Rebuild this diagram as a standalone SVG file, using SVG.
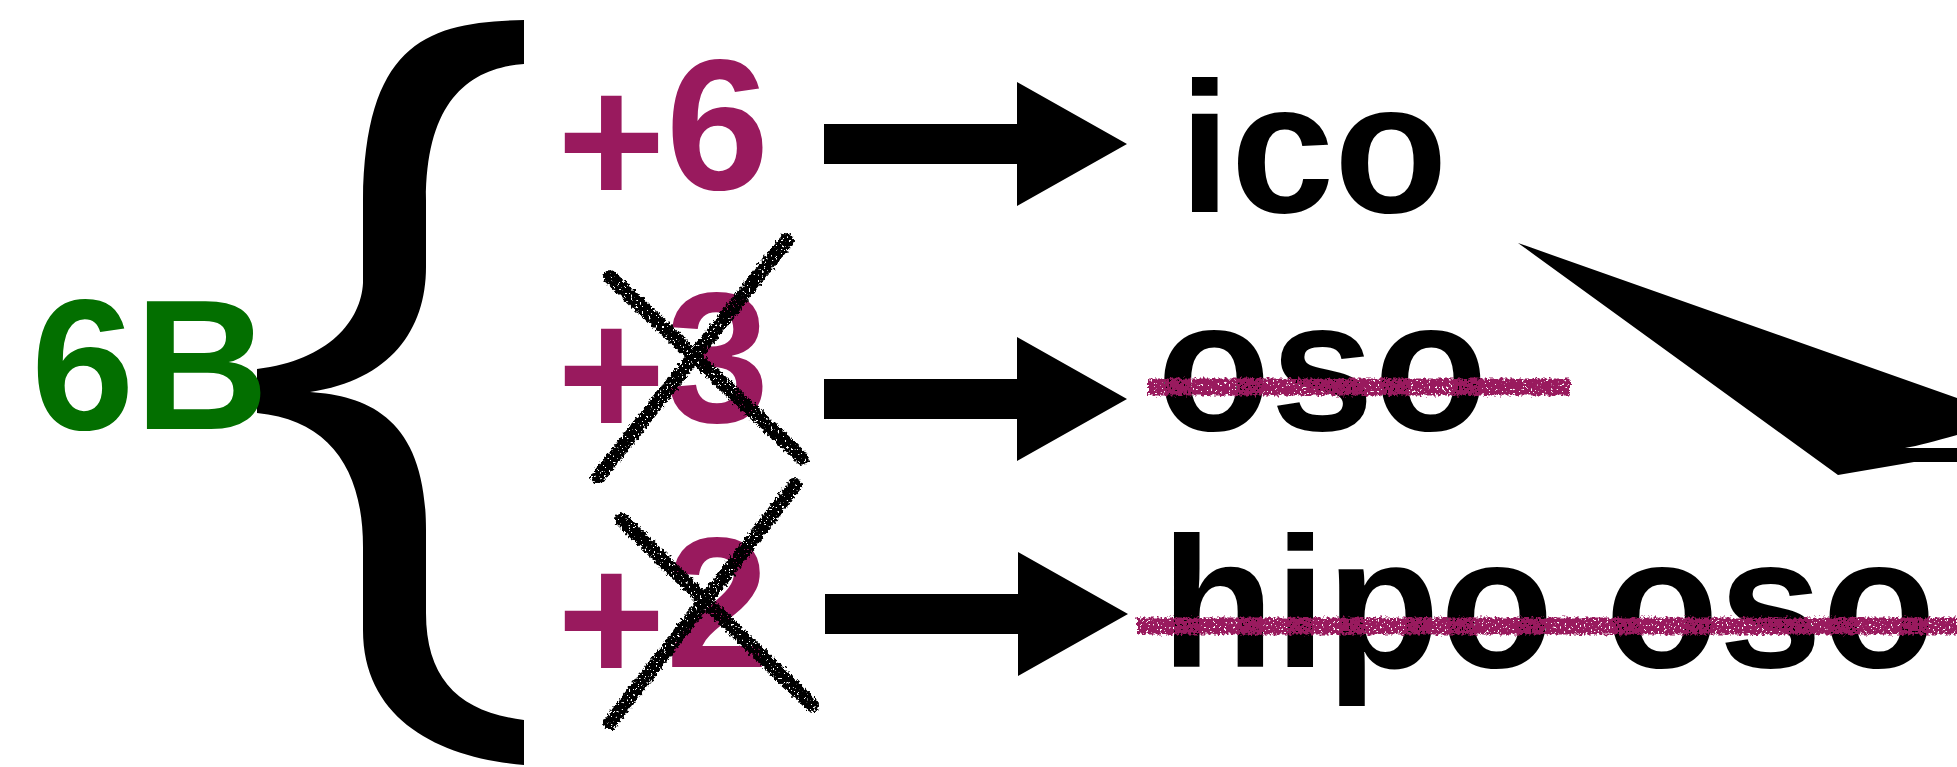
<svg xmlns="http://www.w3.org/2000/svg" width="1957" height="767" viewBox="0 0 1957 767">
  <style>
    .lbl { font-family: "Liberation Sans", Arial, Helvetica, sans-serif; font-weight: bold; font-size: 186px; }
    .green { fill: #036f00; }
    .plum { fill: #991a5e; }
    .ink { fill: #000000; }
    .cross { stroke: #000000; stroke-width: 14; stroke-linecap: round; fill: none; }
    .strike { stroke: #991a5e; stroke-width: 17; fill: none; }
  </style>
  <defs>
    <!-- rough chalk texture for hand-drawn marks -->
    <filter id="chalk" filterUnits="userSpaceOnUse" x="0" y="0" width="1957" height="767" color-interpolation-filters="sRGB">
      <feTurbulence type="fractalNoise" baseFrequency="0.35" numOctaves="2" seed="4" result="noise"/>
      <feDisplacementMap in="SourceGraphic" in2="noise" scale="7" xChannelSelector="R" yChannelSelector="G" result="rough"/>
      <feTurbulence type="fractalNoise" baseFrequency="0.45" numOctaves="2" seed="9" result="grain"/>
      <feColorMatrix in="grain" type="matrix" values="0 0 0 0 0  0 0 0 0 0  0 0 0 0 0  16 0 0 0 -4.6" result="mask"/>
      <feComposite in="rough" in2="mask" operator="in"/>
    </filter>
    <!-- block arrow pointing right, origin at tail centre -->
    <path id="blockArrow" d="M0,-20 L193,-20 L193,-62 L303,0 L193,62 L193,20 L0,20 Z"/>
  </defs>

  <rect width="1957" height="767" fill="#ffffff"/>

  <g id="source">
    <path class="ink" d="M524,20 C430,22 365,40 363,200 L363,283 C361,320 330,360 257,369 L257,413 C330,420 363,470 363,547 L363,630 C363,720 440,758 524,765 L524,720 C460,712 426,680 426,613 L426,530 C426,420 370,396 310,392 C390,380 426,330 426,267 L426,200 C426,100 470,68 524,64 Z"/>
    <text class="lbl green" x="31" y="429">6B</text>
  </g>

  <g id="plus6">
    <text class="lbl plum" x="557" y="189"><tspan y="205">+</tspan><tspan y="189">6</tspan></text>
  </g>

  <g id="plus3">
    <text class="lbl plum" x="557" y="422"><tspan y="438">+</tspan><tspan y="422">3</tspan></text>
    <g filter="url(#chalk)">
      <line class="cross" x1="610" y1="277" x2="802" y2="458"/>
      <line class="cross" x1="598" y1="477" x2="787" y2="240"/>
    </g>
  </g>

  <g id="plus2">
    <text class="lbl plum" x="557" y="667"><tspan y="683">+</tspan><tspan y="667">2</tspan></text>
    <g filter="url(#chalk)">
      <line class="cross" x1="622" y1="520" x2="812" y2="705"/>
      <line class="cross" x1="610" y1="723" x2="795" y2="485"/>
    </g>
  </g>

  <g id="ico">
    <text class="lbl ink" x="1179" y="212">ico</text>
  </g>

  <g id="oso">
    <text class="lbl ink" x="1157" y="430">oso</text>
    <line class="strike" x1="1148" y1="387" x2="1570" y2="387" filter="url(#chalk)"/>
  </g>

  <g id="hipo-oso">
    <text class="lbl ink" x="1161" y="667">hipo oso</text>
    <line class="strike" x1="1137" y1="626" x2="1957" y2="626" filter="url(#chalk)"/>
  </g>

  <g id="connectors" class="ink">
    <use href="#blockArrow" transform="translate(824,144)"/>
    <use href="#blockArrow" transform="translate(824,399)"/>
    <use href="#blockArrow" transform="translate(825,614)"/>
    <!-- head of the return arrow entering from the right -->
    <path d="M1518,243 L1957,398 L1957,435 C1935,441 1918,446 1905,448 L1957,448 L1957,462 L1914,462 L1838,475 Z"/>
  </g>
</svg>
